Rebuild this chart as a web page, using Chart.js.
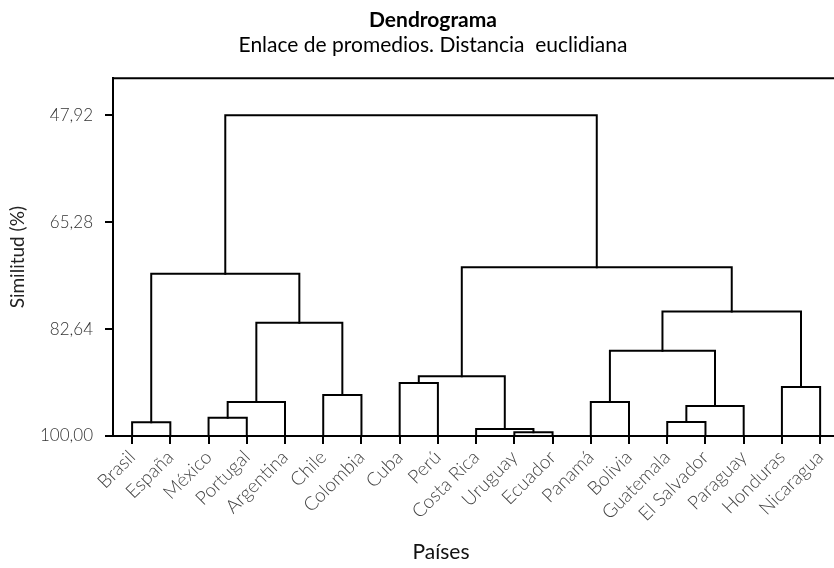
<!DOCTYPE html>
<html>
<head>
<meta charset="utf-8">
<script src="https://cdn.jsdelivr.net/npm/chart.js@4"></script>
<style>
  html, body { margin: 0; padding: 0; overflow: hidden; background: #fff; }
  #wrap { width: 866px; height: 568px; position: relative; }
</style>
</head>
<body>
<div id="wrap"><canvas id="c"></canvas></div>
<script>
// Leaf order (countries)
const countries = ['Brasil','España','México','Portugal','Argentina','Chile','Colombia','Cuba','Perú','Costa Rica','Uruguay','Ecuador','Panamá','Bolivia','Guatemala','El Salvador','Paraguay','Honduras','Nicaragua'];
// Merges: node ids 0..18 are leaves, each merge creates node 19, 20, ...
const mergeLeft   = [10,  9,  0, 14,  2, 22, 23, 12,  5, 17,  7, 29, 26, 25, 21, 31, 30, 33];
const mergeRight  = [11, 19,  1, 15,  3, 16,  4, 13,  6, 18,  8, 20, 24, 27, 32, 28, 34, 35];
const mergeHeight = [99.40, 98.86, 97.77, 97.72, 97.02, 95.12, 94.47, 94.47, 93.33, 92.03, 91.38, 90.29, 86.17, 81.61, 73.64, 79.77, 72.61, 47.92];
// Y axis tick values
const yTicks = [47.92, 65.28, 82.64, 100.00];
const leafLevel = 100;

// Build node positions from tree structure
const nodeX = countries.map((_, i) => i);
const nodeY = countries.map(() => leafLevel);
const datasets = [];
for (let k = 0; k < mergeHeight.length; k++) {
  const a = mergeLeft[k], b = mergeRight[k], h = mergeHeight[k];
  datasets.push({
    data: [
      {x: nodeX[a], y: nodeY[a]},
      {x: nodeX[a], y: h},
      {x: nodeX[b], y: h},
      {x: nodeX[b], y: nodeY[b]}
    ],
    showLine: true,
    borderColor: '#000',
    borderWidth: 2,
    pointRadius: 0,
    tension: 0,
    fill: false,
    borderJoinStyle: 'miter',
    borderCapStyle: 'square'
  });
  nodeX.push((nodeX[a] + nodeX[b]) / 2);
  nodeY.push(h);
}

const FONT = 'Lato, "Noto Sans", sans-serif';

const frame = {
  id: 'frame',
  afterDraw(chart) {
    const {ctx, chartArea} = chart;
    ctx.save();
    ctx.strokeStyle = '#000';
    ctx.lineWidth = 2;
    ctx.beginPath();
    ctx.moveTo(chartArea.left - 1, chartArea.top);
    ctx.lineTo(chartArea.right + 40, chartArea.top);
    ctx.stroke();
    ctx.fillStyle = '#111';
    ctx.font = '21px ' + FONT;
    ctx.textAlign = 'center';
    ctx.textBaseline = 'alphabetic';
    ctx.fillText('Países', 441, 559);
    ctx.restore();
  }
};

new Chart(document.getElementById('c'), {
  type: 'scatter',
  data: { datasets },
  options: {
    responsive: true,
    maintainAspectRatio: false,
    animation: false,
    layout: { padding: { left: 0, right: 0, top: 0, bottom: 0 } },
    plugins: {
      legend: { display: false },
      tooltip: { enabled: false },
      title: {
        display: true,
        text: 'Dendrograma',
        color: '#000',
        font: { family: FONT, size: 21, weight: 'bold', lineHeight: 1.2 },
        padding: { top: 8, bottom: 0 }
      },
      subtitle: {
        display: true,
        text: 'Enlace de promedios. Distancia  euclidiana',
        color: '#000',
        font: { family: FONT, size: 21, weight: 'normal', lineHeight: 1.1 },
        padding: { top: 0, bottom: 22 }
      }
    },
    scales: {
      x: {
        type: 'linear',
        min: -0.5,
        max: 19.2,
        afterBuildTicks(scale) { scale.ticks = countries.map((_, i) => ({ value: i })); },
        afterFit(scale) { scale.height = 132; },
        ticks: {
          autoSkip: false,
          maxRotation: 45,
          minRotation: 45,
          padding: 2,
          color: '#444',
          font: { family: FONT, size: 19, weight: 300 },
          callback: (v) => countries[v]
        },
        grid: { drawOnChartArea: false, drawTicks: true, tickLength: 8, color: '#000', lineWidth: 2 },
        border: { display: true, color: '#000', width: 2 }
      },
      y: {
        type: 'linear',
        reverse: true,
        min: 41.9,
        max: 100,
        afterBuildTicks(scale) { scale.ticks = yTicks.map(v => ({ value: v })); },
        afterFit(scale) { scale.width = 113; },
        ticks: {
          padding: 12,
          color: '#333',
          font: { family: FONT, size: 17, weight: 300 },
          callback: (v) => v.toFixed(2).replace('.', ',')
        },
        grid: { drawOnChartArea: false, drawTicks: true, tickLength: 8, color: '#000', lineWidth: 2 },
        border: { display: true, color: '#000', width: 2 },
        title: {
          display: true,
          text: 'Similitud (%)',
          color: '#222',
          font: { family: FONT, size: 19, weight: 'normal' },
          padding: { top: 6, bottom: 0 }
        }
      }
    }
  },
  plugins: [frame]
});
</script>
</body>
</html>
